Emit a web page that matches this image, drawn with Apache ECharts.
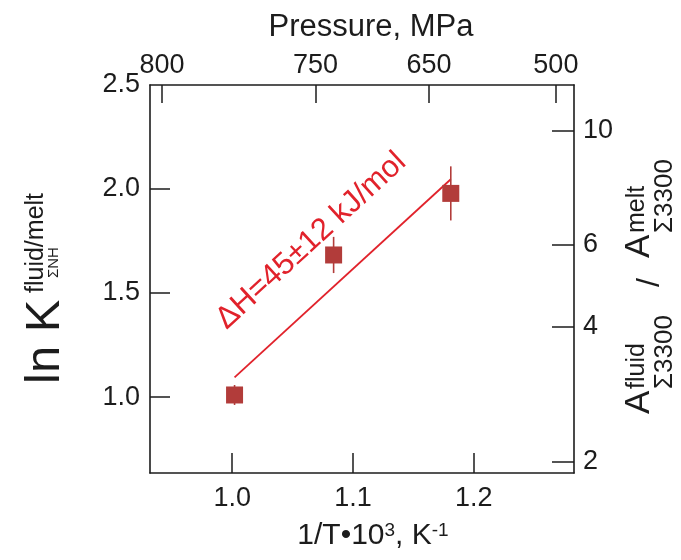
<!DOCTYPE html>
<html>
<head>
<meta charset="utf-8">
<script src="https://cdn.jsdelivr.net/npm/echarts@6/dist/echarts.min.js"></script>
<style>
html,body{margin:0;padding:0;background:#fff;}
#chart{width:681px;height:560px;}
</style>
</head>
<body>
<div id="chart"></div>
<script>
// ---- data ----
const invT = [1.002, 1.084, 1.181];          // 1/T * 10^3, K^-1
const lnK = [1.010, 1.683, 1.979];           // ln K fluid/melt
const lnKErr = [0.048, 0.087, 0.13];
const fitInvT = [1.002, 1.181];
const fitLnK = [1.095, 2.047];
const bottomTicks = [1.0, 1.1, 1.2];
const leftTickLabels = [1.0, 1.5, 2.0, 2.5];
const leftTicks = [1.0, 1.5, 2.0];
const pressureLabels = ['800', '750', '650', '500'];   // MPa
const pressureAtInvT = [0.942, 1.069, 1.163, 1.268];
const ratioLabels = ['10', '6', '4', '2'];
const ratioAtLnK = [2.279, 1.731, 1.337, 0.688];
const fitLabel = 'ΔH=45±12 kJ/mol';

const xMin = 0.932, xMax = 1.283, yMin = 0.635, yMax = 2.5;
const FONT = "'Liberation Sans', Arial, Helvetica, sans-serif";
const INK = '#1c1c1c';
const RED = '#e1222b';
const SQ = '#b23c3a';

const chart = echarts.init(document.getElementById('chart'), null, {renderer: 'canvas'});

const axisLine = {show: true, lineStyle: {color: INK, width: 1.6}};
const tickStyle = {color: INK, width: 1.5};
const lbl = {color: INK, fontSize: 27, fontFamily: FONT};

function nearestLabel(v, positions, labels) {
  let i = 0, best = 1e9;
  positions.forEach((p, k) => { if (Math.abs(p - v) < best) { best = Math.abs(p - v); i = k; } });
  return labels[i];
}

const option = {
  animation: false,
  backgroundColor: '#fff',
  grid: {left: 150, right: 107, top: 85, bottom: 87, containLabel: false, outerBoundsMode: 'none'},
  xAxis: [
    {
      type: 'value', position: 'bottom', min: xMin, max: xMax,
      axisLine: axisLine,
      splitLine: {show: false},
      axisTick: {show: true, inside: true, length: 20, lineStyle: tickStyle, customValues: bottomTicks},
      axisLabel: Object.assign({}, lbl, {margin: 12, customValues: bottomTicks, formatter: v => v.toFixed(1)}),
      name: '1/T•10{s|3}, K{s|-1}',
      nameLocation: 'middle', nameGap: 48,
      nameTextStyle: {color: INK, fontSize: 30, fontFamily: FONT, padding: [0, 0, 0, 22],
        rich: {s: {fontSize: 19, fontFamily: FONT, color: INK, verticalAlign: 'top', lineHeight: 20}}}
    },
    {
      type: 'value', position: 'top', min: xMin, max: xMax,
      axisLine: axisLine,
      splitLine: {show: false},
      axisTick: {show: true, inside: true, length: 18, lineStyle: tickStyle, customValues: pressureAtInvT},
      axisLabel: Object.assign({}, lbl, {margin: 6, customValues: pressureAtInvT,
        formatter: v => nearestLabel(v, pressureAtInvT, pressureLabels)}),
      name: 'Pressure, MPa',
      nameLocation: 'middle', nameGap: 42,
      nameTextStyle: {color: INK, fontSize: 31, fontFamily: FONT, padding: [0, 0, 0, 18]}
    }
  ],
  yAxis: [
    {
      type: 'value', position: 'left', min: yMin, max: yMax,
      axisLine: axisLine,
      splitLine: {show: false},
      axisTick: {show: true, inside: true, length: 20, lineStyle: tickStyle, customValues: leftTicks},
      axisLabel: Object.assign({}, lbl, {margin: 10, customValues: leftTickLabels, formatter: v => v.toFixed(1)})
    },
    {
      type: 'value', position: 'right', min: yMin, max: yMax,
      axisLine: axisLine,
      splitLine: {show: false},
      axisTick: {show: true, inside: true, length: 22, lineStyle: tickStyle, customValues: ratioAtLnK},
      axisLabel: Object.assign({}, lbl, {margin: 9, customValues: ratioAtLnK,
        formatter: v => nearestLabel(v, ratioAtLnK, ratioLabels)})
    }
  ],
  series: [
    {
      type: 'line', xAxisIndex: 0, yAxisIndex: 0,
      data: fitInvT.map((x, i) => [x, fitLnK[i]]),
      symbol: 'none', lineStyle: {color: RED, width: 1.8}, z: 2
    },
    {
      type: 'custom', xAxisIndex: 0, yAxisIndex: 0,
      data: invT.map((x, i) => [x, lnK[i], lnKErr[i]]),
      renderItem: function (params, api) {
        const x = api.value(0), y = api.value(1), e = api.value(2);
        const p1 = api.coord([x, y - e]), p2 = api.coord([x, y + e]);
        return {type: 'line', shape: {x1: p1[0], y1: p1[1], x2: p2[0], y2: p2[1]},
          style: {stroke: SQ, lineWidth: 1.6}};
      }, z: 3
    },
    {
      type: 'scatter', xAxisIndex: 0, yAxisIndex: 0,
      data: invT.map((x, i) => [x, lnK[i]]),
      symbol: 'rect', symbolSize: 17,
      itemStyle: {color: SQ, opacity: 1}, z: 4
    }
  ]
};
chart.setOption(option);

// --- annotation along the fit line ---
const pA = chart.convertToPixel({xAxisIndex: 0, yAxisIndex: 0}, [fitInvT[0], fitLnK[0]]);
const pB = chart.convertToPixel({xAxisIndex: 0, yAxisIndex: 0}, [fitInvT[1], fitLnK[1]]);
const dx = pB[0] - pA[0], dy = pB[1] - pA[1];
const len = Math.sqrt(dx * dx + dy * dy);
const ux = dx / len, uy = dy / len;        // along line
const nx = uy, ny = -ux;                   // perpendicular (upper-left side)
const ang = Math.atan2(-dy, dx);
const along = 26, perp = 49;

function vtext(text, size, startY, cx) {
  return {type: 'text', x: cx, y: startY, rotation: Math.PI / 2,
    style: {text: text, fontSize: size, fontFamily: FONT, fill: INK, align: 'left', verticalAlign: 'middle'}};
}

chart.setOption({
  graphic: [
    {type: 'text', x: pA[0] + ux * along + nx * perp, y: pA[1] + uy * along + ny * perp, rotation: ang,
      style: {text: fitLabel, fontSize: 31, fontFamily: FONT, fill: RED, align: 'left', verticalAlign: 'middle'}, z: 10},
    // left title: ln K (fluid/melt, ΣNH)
    vtext('ln K', 49, 384, 45.5),
    vtext('fluid/melt', 25, 293, 36),
    vtext('ΣNH', 15, 278, 54),
    // right title: A(fluid, Σ3300) / A(melt, Σ3300)
    vtext('A', 35, 414, 639),
    vtext('fluid', 25, 389, 637),
    vtext('Σ3300', 26, 389, 665),
    vtext('/', 32, 287, 650),
    vtext('A', 35, 258, 639),
    vtext('melt', 25, 233, 637),
    vtext('Σ3300', 26, 233, 665)
  ]
});
</script>
</body>
</html>
